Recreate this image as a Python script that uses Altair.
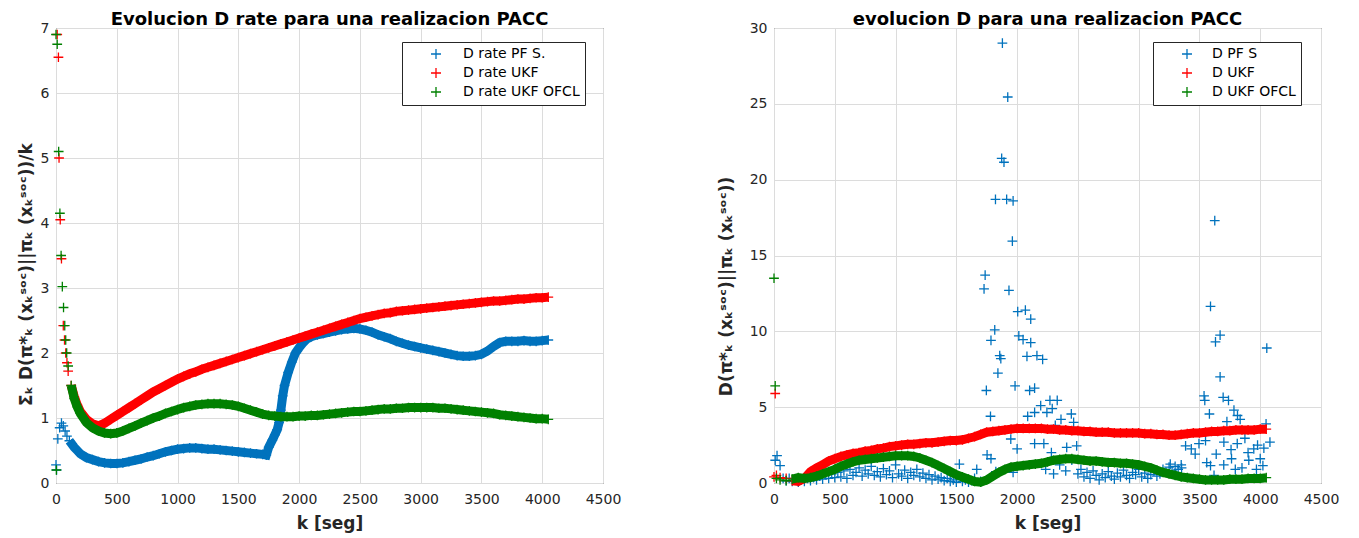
import altair as alt
import pandas as pd

FONT = "DejaVu Sans"
C_BLUE = "#0072BD"
C_RED = "#FF0000"
C_GREEN = "#008000"
PLUS = "M-1,0H1M0,-1V1"

# ---------------- left panel: cumulative D rate ----------------
rate_pf = [(0, 0.28), (5, 0.2), (15, 0.68), (30, 0.85), (45, 0.92), (60, 0.88), (75, 0.8), (90, 0.72),
           (110, 0.65), (130, 0.6), (150, 0.55), (175, 0.5), (200, 0.45), (250, 0.39), (300, 0.36),
           (350, 0.33), (400, 0.31), (450, 0.3), (500, 0.3), (550, 0.31), (600, 0.33), (650, 0.35),
           (700, 0.37), (750, 0.4), (800, 0.42), (850, 0.45), (900, 0.48), (950, 0.5), (1000, 0.52),
           (1050, 0.53), (1100, 0.54), (1150, 0.54), (1200, 0.53), (1250, 0.52), (1300, 0.52),
           (1350, 0.51), (1400, 0.5), (1450, 0.49), (1500, 0.48), (1550, 0.47), (1600, 0.46),
           (1650, 0.45), (1700, 0.44), (1730, 0.43), (1750, 0.55), (1780, 0.66), (1800, 0.74),
           (1820, 0.82), (1835, 0.93), (1850, 1.12), (1865, 1.34), (1880, 1.5), (1910, 1.7),
           (1940, 1.86), (1970, 2.0), (2000, 2.08), (2030, 2.15), (2060, 2.21), (2100, 2.25),
           (2150, 2.28), (2200, 2.3), (2250, 2.32), (2300, 2.34), (2350, 2.36), (2400, 2.37),
           (2450, 2.38), (2500, 2.37), (2550, 2.35), (2600, 2.32), (2650, 2.28), (2700, 2.25),
           (2750, 2.22), (2800, 2.18), (2850, 2.15), (2900, 2.12), (2950, 2.1), (3000, 2.08),
           (3050, 2.06), (3100, 2.04), (3150, 2.02), (3200, 2.0), (3250, 1.98), (3300, 1.96),
           (3350, 1.95), (3400, 1.95), (3450, 1.96), (3500, 1.98), (3550, 2.03), (3600, 2.1),
           (3650, 2.16), (3700, 2.18), (3750, 2.18), (3800, 2.18), (3850, 2.19), (3900, 2.18),
           (3950, 2.18), (4000, 2.19), (4050, 2.2)]

rate_ukf = [(10, 6.9), (20, 6.55), (25, 5.0), (35, 4.05), (45, 3.45), (60, 2.42), (70, 2.2),
            (80, 2.0), (90, 1.85), (100, 1.72), (125, 1.5), (150, 1.33), (175, 1.2), (200, 1.1),
            (250, 0.98), (300, 0.91), (350, 0.88), (400, 0.92), (450, 0.98), (500, 1.04),
            (550, 1.1), (600, 1.16), (650, 1.22), (700, 1.28), (750, 1.34), (800, 1.4), (850, 1.45),
            (900, 1.5), (950, 1.55), (1000, 1.6), (1050, 1.64), (1100, 1.68), (1150, 1.71),
            (1200, 1.75), (1250, 1.78), (1300, 1.81), (1350, 1.84), (1400, 1.87), (1450, 1.9),
            (1500, 1.93), (1550, 1.96), (1600, 1.99), (1650, 2.02), (1700, 2.05), (1750, 2.08),
            (1800, 2.11), (1850, 2.14), (1900, 2.17), (1950, 2.2), (2000, 2.23), (2050, 2.26),
            (2100, 2.29), (2150, 2.32), (2200, 2.35), (2250, 2.38), (2300, 2.41), (2350, 2.44),
            (2400, 2.47), (2450, 2.5), (2500, 2.53), (2550, 2.55), (2600, 2.57), (2650, 2.59),
            (2700, 2.61), (2750, 2.62), (2800, 2.64), (2850, 2.65), (2900, 2.66), (2950, 2.67),
            (3000, 2.68), (3050, 2.69), (3100, 2.7), (3150, 2.71), (3200, 2.72), (3250, 2.73),
            (3300, 2.74), (3350, 2.75), (3400, 2.76), (3450, 2.77), (3500, 2.78), (3550, 2.79),
            (3600, 2.8), (3650, 2.8), (3700, 2.81), (3750, 2.82), (3800, 2.83), (3850, 2.83),
            (3900, 2.84), (3950, 2.85), (4000, 2.85), (4050, 2.86)]

rate_ofcl = [(0, 6.9), (3, 0.2), (10, 6.75), (22, 5.1), (32, 4.15), (42, 3.5), (52, 3.02), (62, 2.7),
             (72, 2.42), (80, 2.2), (88, 2.0), (100, 1.8), (125, 1.5), (150, 1.3), (175, 1.17),
             (200, 1.07), (250, 0.93), (300, 0.85), (350, 0.8), (400, 0.77), (450, 0.76),
             (500, 0.77), (550, 0.8), (600, 0.84), (650, 0.88), (700, 0.92), (750, 0.96), (800, 1.0),
             (850, 1.03), (900, 1.07), (950, 1.1), (1000, 1.13), (1050, 1.16), (1100, 1.18),
             (1150, 1.2), (1200, 1.21), (1250, 1.22), (1300, 1.22), (1350, 1.22), (1400, 1.21),
             (1450, 1.2), (1500, 1.18), (1550, 1.15), (1600, 1.12), (1650, 1.09), (1700, 1.06),
             (1750, 1.04), (1800, 1.03), (1850, 1.02), (1900, 1.02), (1950, 1.02), (2000, 1.03),
             (2050, 1.03), (2100, 1.04), (2150, 1.04), (2200, 1.05), (2250, 1.06), (2300, 1.07),
             (2350, 1.08), (2400, 1.09), (2450, 1.1), (2500, 1.1), (2550, 1.11), (2600, 1.12),
             (2650, 1.13), (2700, 1.14), (2750, 1.14), (2800, 1.15), (2850, 1.15), (2900, 1.16),
             (2950, 1.16), (3000, 1.16), (3050, 1.16), (3100, 1.16), (3150, 1.15), (3200, 1.15),
             (3250, 1.14), (3300, 1.13), (3350, 1.12), (3400, 1.11), (3450, 1.1), (3500, 1.09),
             (3550, 1.08), (3600, 1.07), (3650, 1.05), (3700, 1.04), (3750, 1.03), (3800, 1.02),
             (3850, 1.01), (3900, 1.0), (3950, 0.99), (4000, 0.99), (4050, 0.98)]

# ---------------- right panel: instantaneous D ----------------
d_pf = [
    # low scatter 0..1700
    (10, 1.5), (25, 1.8), (50, 1.15), (75, 0.3), (100, 0.15), (125, 0.3), (150, 0.1), (175, 0.25),
    (200, 0.05), (225, 0.2), (250, 0.1), (275, 0.3), (300, 0.15), (325, 0.35), (350, 0.2),
    (375, 0.45), (400, 0.25), (425, 0.55), (450, 0.3), (475, 0.6), (500, 0.35), (525, 0.7),
    (550, 0.4), (575, 0.8), (600, 0.3), (625, 0.9), (650, 0.5), (675, 0.7), (700, 1.0), (725, 0.45),
    (750, 0.85), (775, 0.6), (800, 1.1), (825, 0.5), (850, 0.75), (875, 0.4), (900, 0.95),
    (925, 0.55), (950, 0.8), (975, 0.35), (1000, 1.2), (1025, 0.6), (1050, 0.45), (1075, 0.85),
    (1100, 0.3), (1125, 0.7), (1150, 0.5), (1175, 0.9), (1200, 0.4), (1225, 0.65), (1250, 0.3),
    (1275, 0.55), (1300, 0.2), (1325, 0.45), (1350, 0.25), (1375, 0.35), (1400, 0.15), (1425, 0.3),
    (1450, 0.1), (1475, 0.2), (1500, 0.05), (1525, 1.25), (1550, 0.1), (1575, 0.2), (1600, 0.05),
    (1625, 0.15), (1650, 0.3), (1668, 0.9), (1700, 0.1),
    # burst around 1700..2500
    (1737, 13.7), (1728, 12.8), (1933, 12.7), (1816, 10.1), (1785, 9.4), (1857, 8.4), (1866, 8.2),
    (1842, 7.25), (1747, 6.1), (1781, 4.4), (1753, 1.85), (1785, 1.6), (1983, 6.4), (2005, 11.3),
    (2068, 11.4), (2112, 10.8), (2014, 9.7), (2049, 9.45), (2112, 9.25), (2081, 8.35), (2163, 8.4),
    (2210, 8.15), (2103, 6.1), (2144, 6.25), (2087, 4.4), (2144, 4.65), (2194, 5.1), (2270, 5.45),
    (2330, 5.45), (2289, 4.9), (2245, 4.65), (2446, 4.55), (2361, 4.2), (2314, 3.8), (2465, 4.0),
    (2144, 2.6), (2220, 2.6), (2282, 2.0), (2408, 2.35), (2490, 2.45), (2000, 2.25), (1948, 2.9),
    (2235, 0.9), (1967, 0.7), (1825, 0.75), (1879, 29.0), (1923, 25.45), (1873, 21.4),
    (1892, 21.15), (1822, 18.7), (1914, 18.7), (1967, 18.6), (1961, 15.95), (2300, 0.6),
    (2350, 1.2), (2400, 0.8), (2450, 1.5),
    # low scatter 2500..3350
    (2500, 0.6), (2525, 0.9), (2550, 0.4), (2575, 0.7), (2600, 0.3), (2625, 0.8), (2650, 0.5),
    (2675, 0.2), (2700, 0.6), (2725, 0.35), (2750, 0.75), (2775, 0.45), (2800, 0.25), (2825, 0.65),
    (2850, 0.4), (2875, 0.85), (2900, 0.5), (2925, 0.3), (2950, 0.7), (2975, 0.55), (3000, 0.9),
    (3025, 0.4), (3050, 0.65), (3075, 0.3), (3100, 0.55), (3125, 0.8), (3150, 0.45), (3175, 0.6),
    (3200, 0.9), (3225, 0.7), (3250, 1.05), (3260, 1.25), (3275, 0.8), (3300, 1.1), (3325, 0.9),
    (3350, 1.2), (3353, 1.0),
    # second burst 3350..4080
    (3626, 17.3), (3591, 11.65), (3632, 9.3), (3670, 9.75), (3670, 7.0), (4054, 8.9), (3538, 5.75),
    (3544, 5.45), (3582, 4.55), (3695, 5.65), (3739, 5.45), (3784, 4.8), (3813, 4.45), (3835, 4.2),
    (3726, 4.05), (3386, 2.45), (3433, 2.25), (3465, 1.9), (3496, 2.6), (3550, 2.8), (3560, 1.35),
    (3591, 1.15), (3638, 1.9), (3701, 2.7), (3764, 1.6), (3795, 0.9), (3811, 2.6), (3874, 2.95),
    (3906, 1.5), (3947, 2.25), (3978, 2.5), (4000, 1.6), (4022, 1.15), (4048, 3.9), (4080, 2.7),
    (3969, 0.9), (3620, 0.5), (3700, 1.2), (3850, 1.0), (3900, 2.0), (4030, 2.3), (3760, 2.2),
]

d_ukf = [(0, 0.4), (10, 5.9), (20, 0.5), (50, 0.35), (100, 0.3), (150, 0.15), (200, 0.1), (250, 0.3),
         (300, 0.75), (350, 1.0), (400, 1.2), (450, 1.45), (500, 1.6), (550, 1.75), (600, 1.85),
         (650, 1.95), (700, 2.0), (750, 2.1), (800, 2.15), (850, 2.25), (900, 2.3), (950, 2.4),
         (1000, 2.45), (1050, 2.5), (1100, 2.55), (1150, 2.55), (1200, 2.6), (1250, 2.65),
         (1300, 2.65), (1350, 2.7), (1400, 2.75), (1450, 2.8), (1500, 2.8), (1550, 2.85),
         (1600, 2.95), (1650, 3.05), (1700, 3.2), (1750, 3.35), (1800, 3.4), (1850, 3.45),
         (1900, 3.5), (1950, 3.55), (2000, 3.6), (2050, 3.6), (2100, 3.6), (2150, 3.6), (2200, 3.6),
         (2250, 3.55), (2300, 3.55), (2350, 3.5), (2400, 3.5), (2450, 3.45), (2500, 3.45),
         (2550, 3.4), (2600, 3.4), (2650, 3.35), (2700, 3.35), (2750, 3.35), (2800, 3.3),
         (2850, 3.3), (2900, 3.3), (2950, 3.3), (3000, 3.3), (3050, 3.25), (3100, 3.25),
         (3150, 3.2), (3200, 3.2), (3250, 3.15), (3300, 3.15), (3350, 3.2), (3400, 3.25),
         (3450, 3.3), (3500, 3.3), (3550, 3.35), (3600, 3.4), (3650, 3.4), (3700, 3.45),
         (3750, 3.45), (3800, 3.5), (3850, 3.5), (3900, 3.5), (3950, 3.5), (4000, 3.55), (4050, 3.55)]

d_ofcl = [(0, 13.5), (10, 6.4), (20, 0.3), (50, 0.2), (100, 0.15), (150, 0.25), (200, 0.35),
          (250, 0.3), (300, 0.35), (350, 0.45), (400, 0.6), (450, 0.75), (500, 0.9), (550, 1.1),
          (600, 1.25), (650, 1.4), (700, 1.5), (750, 1.55), (800, 1.6), (850, 1.65), (900, 1.7),
          (950, 1.75), (1000, 1.8), (1050, 1.8), (1100, 1.8), (1150, 1.75), (1200, 1.65),
          (1250, 1.5), (1300, 1.35), (1350, 1.15), (1400, 0.95), (1450, 0.75), (1500, 0.55),
          (1550, 0.4), (1600, 0.25), (1650, 0.1), (1700, 0.05), (1750, 0.2), (1800, 0.45),
          (1850, 0.7), (1900, 0.9), (1950, 1.05), (2000, 1.1), (2050, 1.15), (2100, 1.2),
          (2150, 1.25), (2200, 1.3), (2250, 1.4), (2300, 1.5), (2350, 1.55), (2400, 1.6),
          (2450, 1.6), (2500, 1.55), (2550, 1.5), (2600, 1.45), (2650, 1.45), (2700, 1.4),
          (2750, 1.35), (2800, 1.35), (2850, 1.3), (2900, 1.3), (2950, 1.25), (3000, 1.2),
          (3050, 1.1), (3100, 1.0), (3150, 0.85), (3200, 0.7), (3250, 0.6), (3300, 0.5),
          (3350, 0.4), (3400, 0.35), (3450, 0.3), (3500, 0.25), (3550, 0.2), (3600, 0.2),
          (3650, 0.2), (3700, 0.2), (3750, 0.25), (3800, 0.25), (3850, 0.25), (3900, 0.3),
          (3950, 0.3), (4000, 0.3), (4050, 0.35)]

left_names = ["D rate PF S.", "D rate UKF", "D rate UKF OFCL"]
right_names = ["D PF S", "D UKF", "D UKF OFCL"]
colors = [C_BLUE, C_RED, C_GREEN]

x_ticks = list(range(0, 4501, 500))


def frame(pairs, name):
    return pd.DataFrame({"k": [p[0] for p in pairs], "v": [p[1] for p in pairs], "serie": name})


def panel(series, names, ymax, ystep, ytitle, title, leg_x, leg_y, band_flags, title_y,
          y_title_pad, lab_off):
    xenc = alt.X("k:Q", scale=alt.Scale(domain=[0, 4500], nice=False),
                 axis=alt.Axis(values=x_ticks, title="k [seg]", labelFlush=False, format="d",
                               labelPadding=9, titlePadding=9))
    yenc = alt.Y("v:Q", scale=alt.Scale(domain=[0, ymax], nice=False),
                 axis=alt.Axis(values=list(range(0, ymax + 1, ystep)), title=ytitle, format="d",
                               labelPadding=7, titlePadding=y_title_pad, titleY=title_y))
    cenc = alt.Color("serie:N", scale=alt.Scale(domain=names, range=colors),
                     legend=alt.Legend(title=None, orient="none", legendX=leg_x, legendY=leg_y,
                                       symbolType=PLUS, symbolSize=100, symbolStrokeWidth=1.3,
                                       labelFont=FONT, labelFontSize=14, labelColor="#000000",
                                       padding=5, rowPadding=3, symbolOffset=22,
                                       labelOffset=lab_off, strokeColor="#262626",
                                       fillColor="white", labelLimit=300))
    layers = []
    for pairs, name, col, band in zip(series, names, colors, band_flags):
        df = frame(pairs, name)
        if band:
            dline = df[df.k >= 110]
            layers.append(alt.Chart(dline).mark_line(color=col, strokeWidth=9, opacity=1)
                          .encode(x=xenc, y=yenc))
        layers.append(alt.Chart(df).mark_point(shape=PLUS, filled=False, size=95,
                                               strokeWidth=1.3, opacity=1)
                      .encode(x=xenc, y=yenc, color=cenc))
    return alt.layer(*layers).properties(
        width=547, height=455,
        title=alt.Title(title, font=FONT, fontSize=18, fontWeight="bold", color="#000000", offset=-8))


left = panel([rate_pf, rate_ukf, rate_ofcl], left_names, 7, 1,
             "\u03a3\u2096 D(\u03c0*\u2096 (x\u2096\u02e2\u1d52\u1d9c)||\u03c0\u2096 (x\u2096\u02e2\u1d52\u1d9c))/k",
             "Evolucion D rate para una realizacion PACC", 346, 14, [True, True, True], 246, 5, 20)
right = panel([d_pf, d_ukf, d_ofcl], right_names, 30, 5,
              "D(\u03c0*\u2096 (x\u2096\u02e2\u1d52\u1d9c)||\u03c0\u2096 (x\u2096\u02e2\u1d52\u1d9c))",
              "evolucion D para una realizacion PACC", 379, 14, [False, True, True], 258, 14, 18)

chart = alt.HConcatChart(hconcat=[left, right], spacing=171, bounds="flush").resolve_scale(
    color="independent", x="independent", y="independent").configure(
    padding={"left": 8, "top": 2, "right": 5, "bottom": 5},
    background="white").configure_view(stroke="#262626", strokeWidth=1).configure_axis(
    gridColor="#dcdcdc", gridWidth=1, domain=False, ticks=False, tickSize=0,
    labelFont=FONT, labelFontSize=14, labelColor="#262626",
    titleFont=FONT, titleFontSize=17, titleFontWeight="bold", titleColor="#262626")

chart.save("out.html", embed_options={"renderer": "svg", "actions": False})
